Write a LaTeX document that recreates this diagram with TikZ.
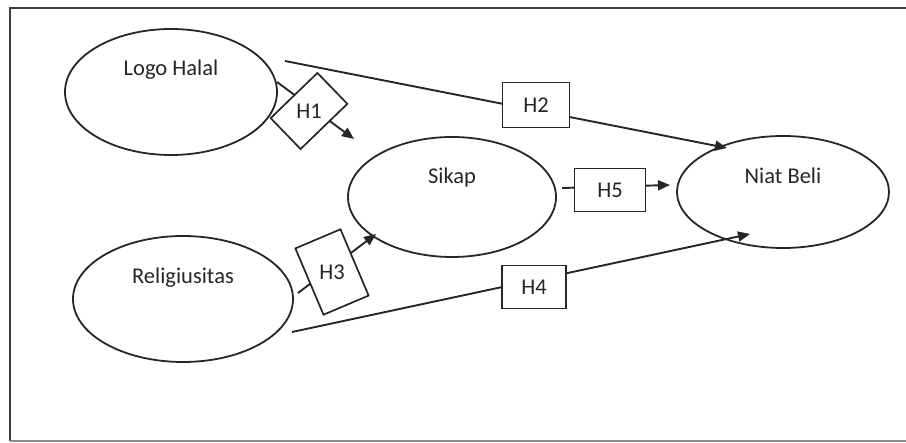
\documentclass[tikz,border=0pt]{standalone}
\usepackage{fontspec}
\setmainfont{Carlito}
\usetikzlibrary{shapes.geometric,arrows.meta}
\definecolor{ink}{gray}{0.15}
\tikzset{
  var/.style={draw=ink, line width=1.8pt, ellipse, inner sep=0pt},
  lbl/.style={text=ink, font=\fontsize{22.5}{26}\selectfont, inner sep=0pt},
  hbox/.style={draw=ink, line width=1.7pt, fill=white, inner sep=0pt},
  conn/.style={draw=ink, line width=1.9pt},
  arr/.style={conn, -{Triangle[length=12pt,width=10pt]}},
}
\begin{document}
\begin{tikzpicture}[x=1pt,y=-1pt]
\useasboundingbox (0,0) rectangle (906,443);
% frame
\coordinate (f1) at (906,8);
\coordinate (f2) at (10,8);
\coordinate (f3) at (10,441);
\coordinate (f4) at (906,441);
\draw[draw=black!75, line width=2pt] (f1) -- (f2) -- (f3);
\draw[draw=black!45, line width=2pt] (f3) -- (f4);
% variables
\node[var, minimum width=212pt, minimum height=126pt] (lh) at (171,92) {};
\node[lbl] (lht) at (171,70) {Logo Halal};
\node[var, minimum width=208pt, minimum height=120pt] (sk) at (452,197) {};
\node[lbl] (skt) at (452,178) {Sikap};
\node[var, minimum width=212pt, minimum height=112pt] (nb) at (783,192) {};
\node[lbl] (nbt) at (783,176) {Niat Beli};
\node[var, minimum width=220pt, minimum height=126pt] (rl) at (183,299) {};
\node[lbl] (rlt) at (183,278) {Religiusitas};
% connector end points
\coordinate (h1s) at (277,82);
\coordinate (h1e) at (354,139);
\coordinate (h2s) at (285,61);
\coordinate (h2e) at (727,148);
\coordinate (h3s) at (298,293);
\coordinate (h3e) at (376,234);
\coordinate (h4s) at (292,332);
\coordinate (h4e) at (750,234);
\coordinate (h5s) at (562,188);
\coordinate (h5e) at (670,185);
\draw[arr] (h1s) -- (h1e);
\draw[arr] (h2s) -- (h2e);
\draw[arr] (h3s) -- (h3e);
\draw[arr] (h4s) -- (h4e);
\draw[arr] (h5s) -- (h5e);
% hypothesis boxes
\node[hbox, rotate=-46, minimum width=43pt, minimum height=65pt] (b1) at (309,111) {};
\node[lbl] (t1) at (b1.center) {H1};
\node[hbox, minimum width=67pt, minimum height=45pt] (b2) at (536,105) {};
\node[lbl] (t2) at (b2.center) {H2};
\node[hbox, rotate=23, minimum width=49pt, minimum height=72pt] (b3) at (332,272) {};
\node[lbl] (t3) at (b3.center) {H3};
\node[hbox, minimum width=64pt, minimum height=43pt] (b4) at (534,287) {};
\node[lbl] (t4) at (b4.center) {H4};
\node[hbox, minimum width=71pt, minimum height=43pt] (b5) at (610,190) {};
\node[lbl] (t5) at (b5.center) {H5};
\end{tikzpicture}
\end{document}
